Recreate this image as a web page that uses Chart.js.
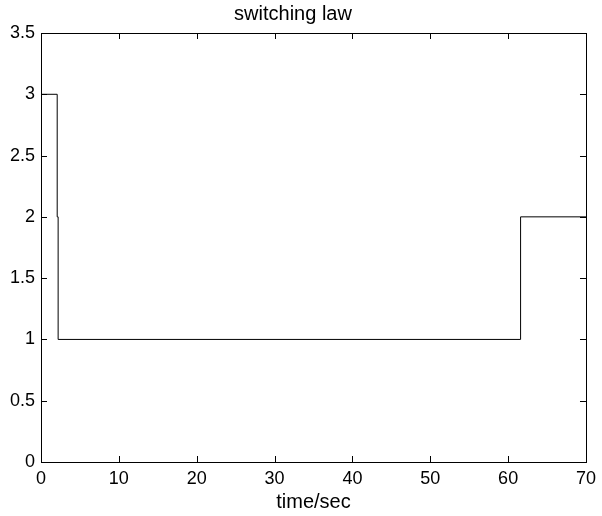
<!DOCTYPE html>
<html>
<head>
<meta charset="utf-8">
<script src="https://cdn.jsdelivr.net/npm/chart.js@4/dist/chart.umd.min.js"></script>
<style>
    html, body { margin: 0; padding: 0; background: #fff; }
    #wrap { width: 602px; height: 516px; }
</style>
</head>
<body>
<div id="wrap"><canvas id="lawChart" width="602" height="516"></canvas></div>
<script>
    // switching law (stepped line, value holds until next time)
    var switchTimes = [0, 2.08, 2.2, 61.6, 70];
    var switchValues = [3, 2, 1, 2, 2];
    var xTicks = [0, 10, 20, 30, 40, 50, 60, 70];
    var yTicks = [0, 0.5, 1, 1.5, 2, 2.5, 3, 3.5];

    var fontFamily = "'Liberation Sans', Arial, Helvetica, sans-serif";

    var points = switchTimes.map(function (t, i) {
        return { x: t, y: switchValues[i] };
    });

    // box round the plot and inward tick marks on all four sides, matlab style
    var boxTicks = {
        id: 'boxTicks',
        afterDraw: function (chart) {
            var ctx = chart.ctx;
            var area = chart.chartArea;
            var xs = chart.scales.x;
            var ys = chart.scales.y;
            var len = 6;
            ctx.save();
            ctx.strokeStyle = '#000';
            ctx.lineWidth = 1;
            ctx.beginPath();
            xTicks.forEach(function (v) {
                var px = Math.round(xs.getPixelForValue(v)) + 0.5;
                ctx.moveTo(px, area.bottom);
                ctx.lineTo(px, area.bottom - len);
                ctx.moveTo(px, area.top);
                ctx.lineTo(px, area.top + len);
            });
            yTicks.forEach(function (v) {
                var py = Math.round(ys.getPixelForValue(v)) + 0.5;
                ctx.moveTo(area.left, py);
                ctx.lineTo(area.left + len, py);
                ctx.moveTo(area.right, py);
                ctx.lineTo(area.right - len, py);
            });
            ctx.stroke();
            ctx.strokeRect(Math.round(area.left) + 0.5, Math.round(area.top) + 0.5,
                Math.round(area.right - area.left), Math.round(area.bottom - area.top));
            ctx.restore();
        }
    };

    new Chart(document.getElementById('lawChart').getContext('2d'), {
        type: 'scatter',
        data: {
            datasets: [{
                label: 'switching law',
                data: points,
                showLine: true,
                stepped: 'before',
                borderColor: '#000',
                borderWidth: 1,
                pointRadius: 0,
                fill: false
            }]
        },
        options: {
            responsive: false,
            animation: false,
            layout: { padding: { left: 0, right: 16, top: 0, bottom: 0 } },
            plugins: {
                legend: { display: false },
                tooltip: { enabled: false },
                title: {
                    display: true,
                    text: 'switching law',
                    color: '#000',
                    font: { family: fontFamily, size: 20, weight: 'normal' },
                    padding: { top: 2, bottom: 7 }
                }
            },
            scales: {
                x: {
                    type: 'linear',
                    min: 0,
                    max: 70,
                    afterBuildTicks: function (scale) {
                        scale.ticks = xTicks.map(function (v) { return { value: v }; });
                    },
                    afterFit: function (scale) { scale.height = 54; },
                    grid: { display: false, drawTicks: false },
                    border: { display: true, color: '#000' },
                    ticks: {
                        color: '#000',
                        padding: 6,
                        maxRotation: 0,
                        font: { family: fontFamily, size: 18 }
                    },
                    title: {
                        display: true,
                        text: 'time/sec',
                        color: '#000',
                        font: { family: fontFamily, size: 20 },
                        padding: { top: 0, bottom: 2 }
                    }
                },
                y: {
                    type: 'linear',
                    min: 0,
                    max: 3.5,
                    afterBuildTicks: function (scale) {
                        scale.ticks = yTicks.map(function (v) { return { value: v }; });
                    },
                    afterFit: function (scale) { scale.width = 41; },
                    grid: { display: false, drawTicks: false },
                    border: { display: true, color: '#000' },
                    ticks: {
                        color: '#000',
                        padding: 6,
                        font: { family: fontFamily, size: 18 },
                        callback: function (value) { return String(value); }
                    }
                }
            }
        },
        plugins: [boxTicks]
    });
</script>
</body>
</html>
